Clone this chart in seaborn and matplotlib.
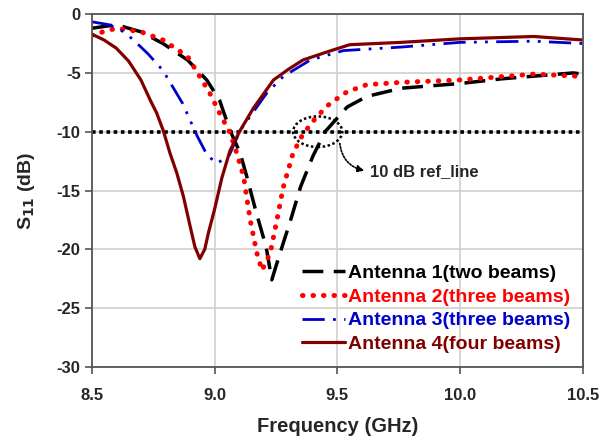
import matplotlib

matplotlib.use("Agg")
import matplotlib.pyplot as plt
import seaborn as sns
from matplotlib.patches import Ellipse

sns.set_style("whitegrid")
plt.rcParams["font.family"] = ["Liberation Sans", "DejaVu Sans"]
plt.rcParams["font.weight"] = "bold"
plt.rcParams["axes.unicode_minus"] = False

# values (frequency in GHz, S11 in dB)
freq_ant1 = [8.5, 8.6, 8.7, 8.79, 8.89, 8.968, 9.02, 9.063, 9.104, 9.131, 9.17, 9.21, 9.233,
             9.267, 9.31, 9.35, 9.40, 9.45, 9.54, 9.62, 9.76, 10.0, 10.17, 10.46, 10.5]
s11_ant1 = [-1.2, -0.9, -1.5, -2.5, -3.9, -5.6, -7.3, -9.9, -11.8, -13.8, -16.9, -19.8, -22.6,
            -20.3, -17.5, -14.7, -12.1, -10.0, -7.9, -7.0, -6.3, -5.9, -5.5, -5.0, -5.1]

freq_ant2 = [8.5, 8.546, 8.6, 8.7, 8.79, 8.89, 8.98, 9.02, 9.063, 9.09, 9.118, 9.145, 9.172,
             9.193, 9.227, 9.254, 9.28, 9.32, 9.36, 9.417, 9.47, 9.54, 9.62, 9.76, 10.0, 10.3, 10.5]
s11_ant2 = [-1.8, -1.5, -1.2, -1.5, -2.2, -3.6, -6.7, -8.4, -10.1, -11.8, -13.8, -17.5, -20.3,
            -21.8, -20.3, -17.5, -14.7, -11.8, -10.2, -8.7, -7.6, -6.6, -6.0, -5.8, -5.6, -5.1, -5.3]

freq_ant3 = [8.5, 8.57, 8.63, 8.67, 8.73, 8.79, 8.87, 8.93, 8.97, 9.01, 9.06, 9.104, 9.213, 9.28, 9.39,
             9.525, 9.76, 10.0, 10.3, 10.5]
s11_ant3 = [-0.65, -0.9, -1.5, -2.2, -3.4, -4.8, -7.6, -10.4, -12.0, -12.7, -12.0, -9.9, -6.7, -5.3, -3.9,
            -3.1, -2.8, -2.4, -2.3, -2.5]

freq_ant4 = [8.5, 8.55, 8.6, 8.65, 8.70, 8.74, 8.764, 8.791, 8.818, 8.846, 8.873, 8.9, 8.92, 8.94, 8.96,
             8.975, 9.0, 9.03, 9.063, 9.104, 9.158, 9.24, 9.30, 9.36, 9.46, 9.55, 9.76, 10.0, 10.3, 10.5]
s11_ant4 = [-1.7, -2.2, -2.9, -4.0, -5.6, -7.4, -8.4, -9.9, -11.8, -13.5, -15.5, -18.0, -19.8, -20.8, -20.0,
            -18.6, -16.6, -13.9, -11.6, -9.9, -8.0, -5.6, -4.7, -3.9, -3.2, -2.6, -2.4, -2.1, -1.9, -2.2]

labels = ["Antenna 1(two beams)", "Antenna 2(three beams)", "Antenna 3(three beams)", "Antenna 4(four beams)"]
colors = ["black", "#ff0000", "#0000cc", "#800000"]

ref_freq = [8.5, 10.5]
ref_level = [-10, -10]

fig, ax = plt.subplots(figsize=(6.04, 4.42), dpi=100)
fig.subplots_adjust(left=0.152, right=0.965, top=0.968, bottom=0.170)

sns.lineplot(x=ref_freq, y=ref_level, ax=ax, color="black", linewidth=2.6,
             linestyle=(0, (1, 1)), label="_ref")

sns.lineplot(x=freq_ant1, y=s11_ant1, ax=ax, color=colors[0], linewidth=2.5,
             linestyle=(0, (6, 3)), label=labels[0], sort=False)
sns.lineplot(x=freq_ant2, y=s11_ant2, ax=ax, color=colors[1], linewidth=3.6,
             linestyle=(0, (0.1, 2)), label=labels[1], sort=False)
ax.lines[-1].set_dash_capstyle("round")
sns.lineplot(x=freq_ant3, y=s11_ant3, ax=ax, color=colors[2], linewidth=2.0,
             linestyle=(0, (8, 3, 1, 3, 1, 3)), label=labels[2], sort=False)
sns.lineplot(x=freq_ant4, y=s11_ant4, ax=ax, color=colors[3], linewidth=2.3,
             label=labels[3], sort=False)

# annotation for the reference line
ax.add_patch(Ellipse((9.42, -10), 0.2, 2.6, fill=False, edgecolor="black",
                     linestyle=(0, (1, 1)), linewidth=1.8, zorder=5))
ax.annotate("", xy=(9.61, -13.3), xytext=(9.51, -11.0),
            arrowprops=dict(arrowstyle="-|>", linestyle=(0, (1, 1)), lw=1.2, color="black",
                            connectionstyle="arc3,rad=0.35", shrinkA=0, shrinkB=0))
ax.text(9.635, -13.35, "10 dB ref_line", fontsize=12, fontweight="bold", va="center")

ax.set_xlim(8.5, 10.5)
ax.set_ylim(-30, 0)
ax.set_xticks([8.5, 9.0, 9.5, 10.0, 10.5])
ax.set_xticklabels(["8.5", "9.0", "9.5", "10.0", "10.5"])
ax.set_yticks([0, -5, -10, -15, -20, -25, -30])
ax.tick_params(axis="both", labelsize=12, length=5, width=1.2, color="#555555", direction="out",
               bottom=True, left=True, pad=3)
ax.tick_params(axis="x", pad=10)
for lab in ax.get_xticklabels() + ax.get_yticklabels():
    lab.set_fontweight("bold")
ax.grid(True, color="#d0d0d0", linewidth=1.2)
for side in ["left", "bottom", "top", "right"]:
    ax.spines[side].set_color("#555555")
    ax.spines[side].set_linewidth(1.3)

ax.set_xlabel("Frequency (GHz)", fontsize=14.5, fontweight="bold", labelpad=10)
ax.set_ylabel("S$_{\\mathbf{11}}$ (dB)", fontsize=14, fontweight="bold", labelpad=14)

leg = ax.legend(loc="upper left", bbox_to_anchor=(0.40, 0.33), frameon=False, fontsize=14,
                handlelength=2.2, handletextpad=0.15, labelspacing=0.32, borderpad=0.2)
for text, c in zip(leg.get_texts(), colors):
    text.set_color(c)
    text.set_fontweight("bold")

fig.savefig("out.png", dpi=100)
